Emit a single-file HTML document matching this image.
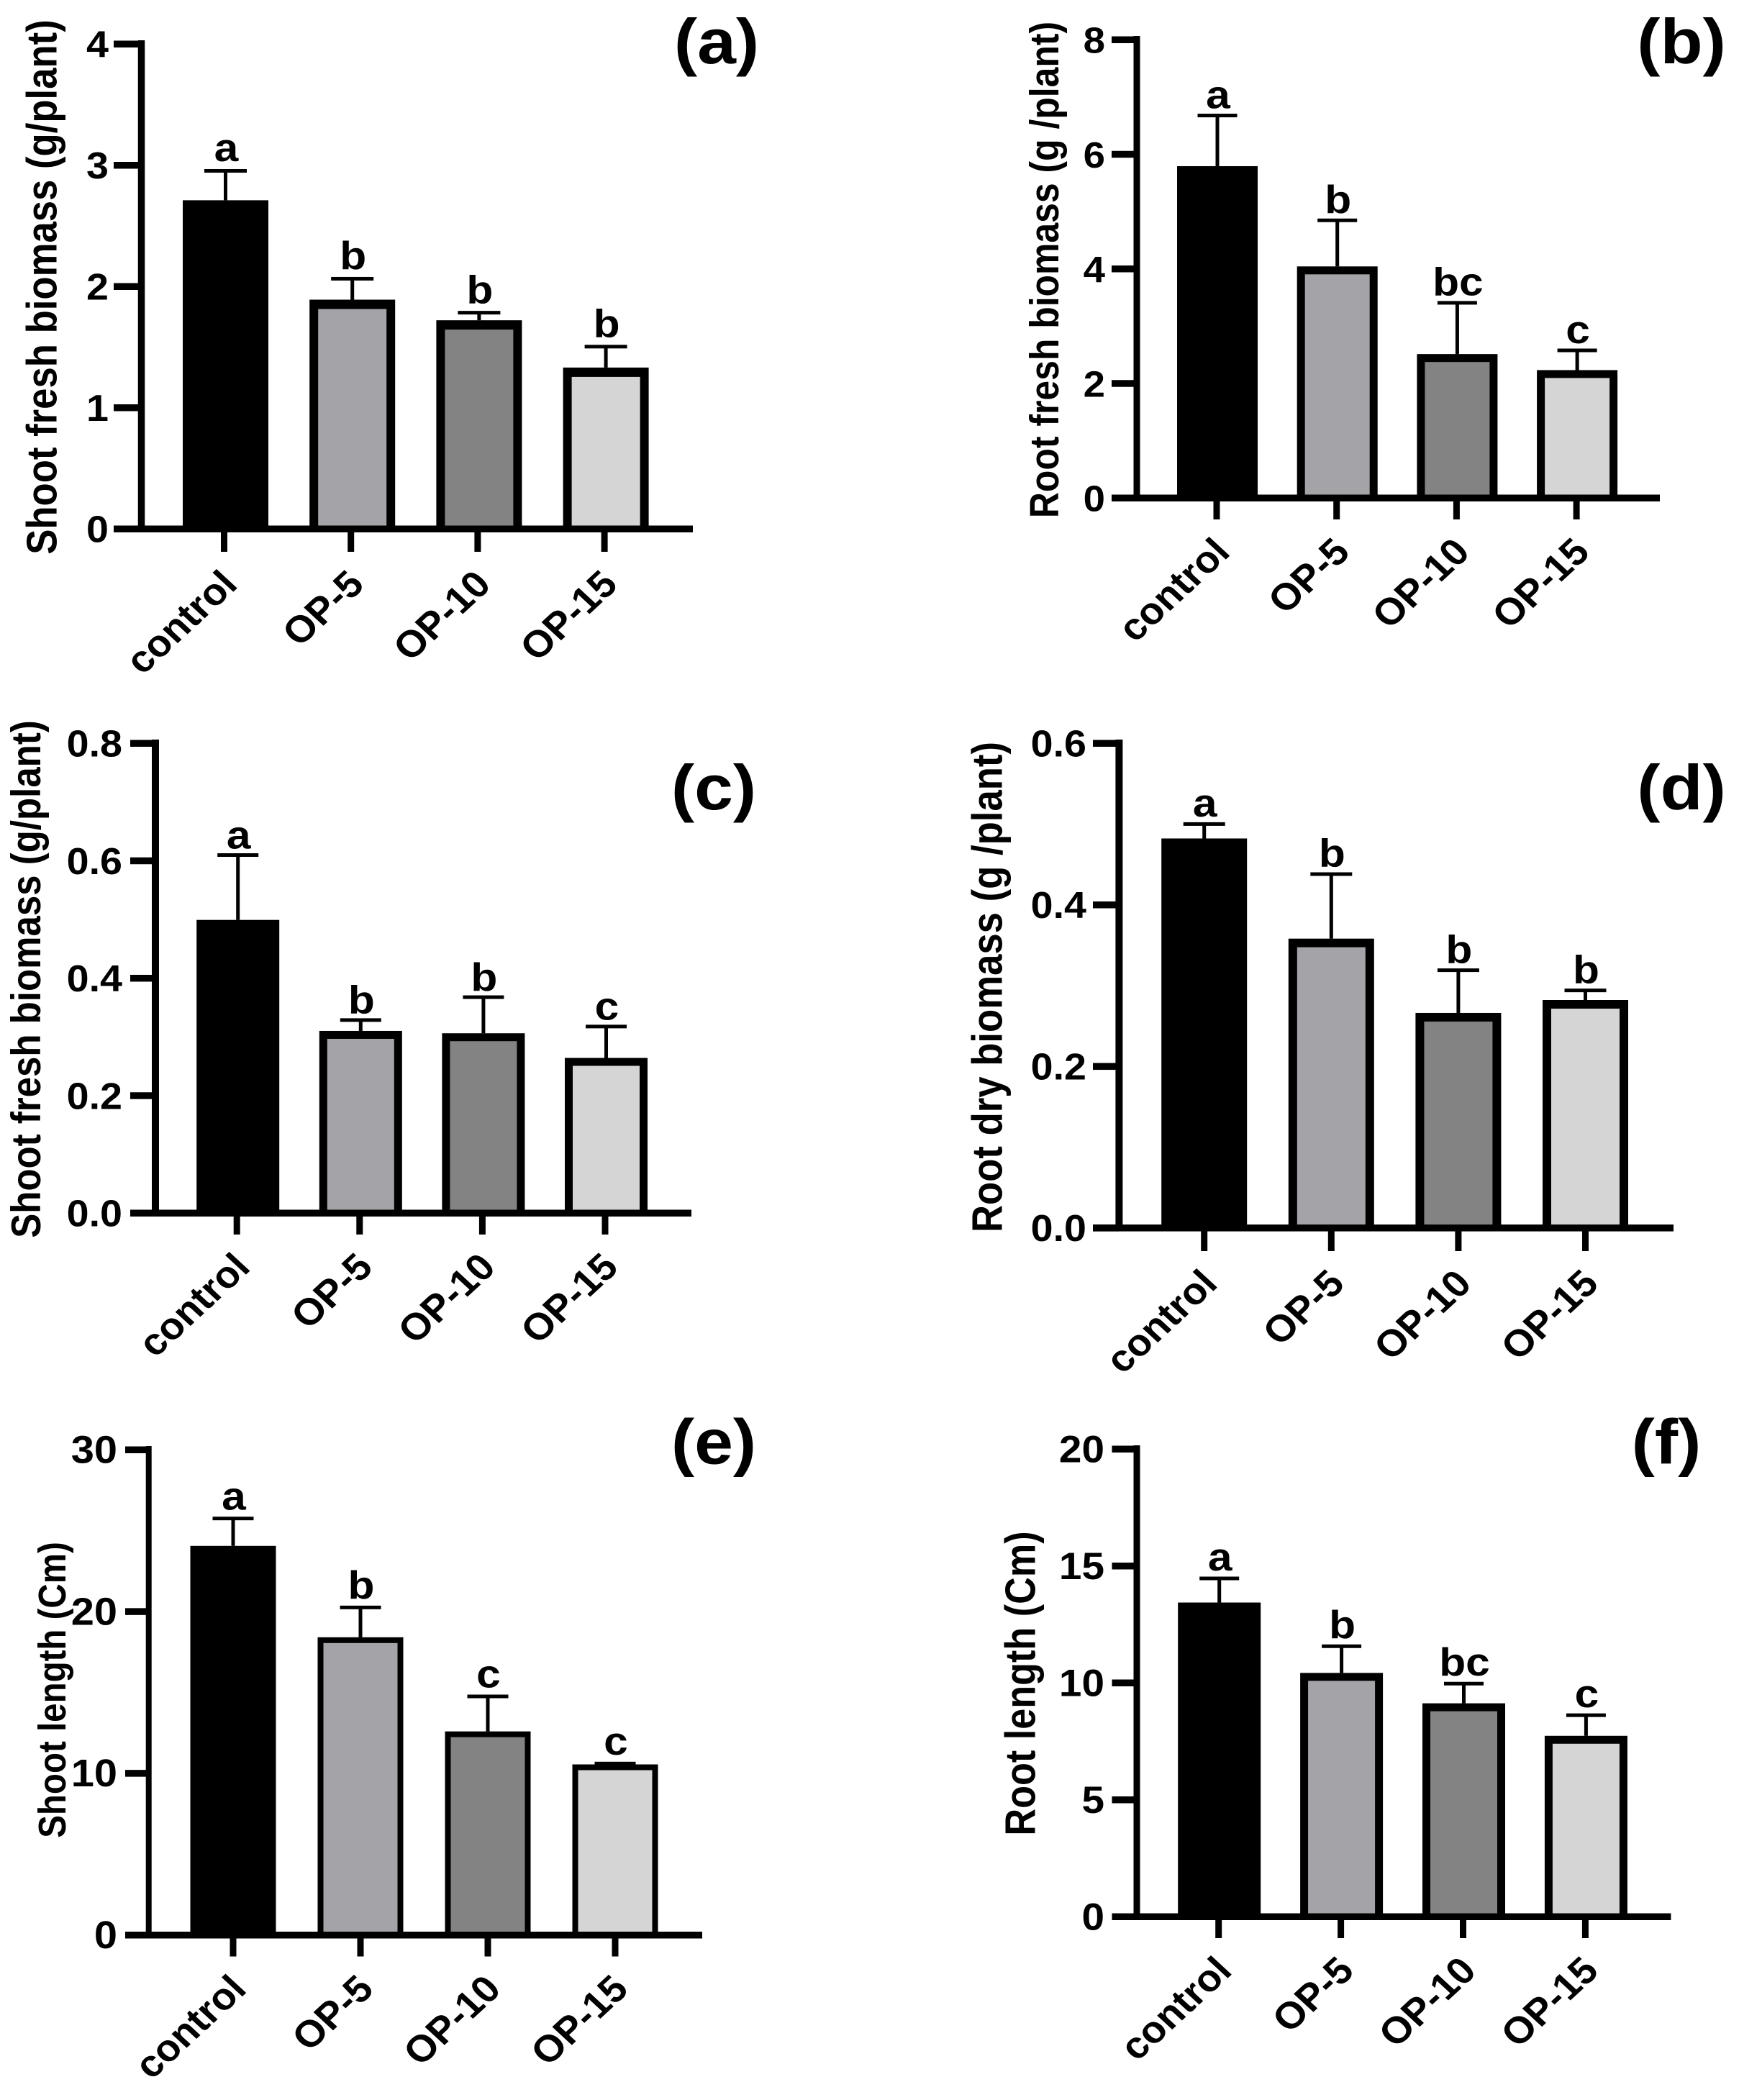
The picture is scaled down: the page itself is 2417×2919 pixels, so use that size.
<!DOCTYPE html>
<html lang="en">
<head>
<meta charset="utf-8">
<title>Biomass and length bar charts</title>
<style>
html,body{margin:0;padding:0;background:#fff;}
svg{display:block;}
text{font-family:"Liberation Sans",Arial,sans-serif;font-weight:bold;fill:#000;}
</style>
</head>
<body>
<svg id="figure" xmlns="http://www.w3.org/2000/svg" width="2417" height="2919" viewBox="0 0 2417 2919"></svg>
<script>
const categories = ['control', 'OP-5', 'OP-10', 'OP-15'];

const panelAValues = [2.71, 1.89, 1.72, 1.33];
const panelAErrors = [2.96, 2.07, 1.79, 1.51];
const panelALetters = ['a', 'b', 'b', 'b'];
const panelATicks = ['0', '1', '2', '3', '4'];

const panelBValues = [5.79, 4.04, 2.51, 2.23];
const panelBErrors = [6.69, 4.86, 3.42, 2.59];
const panelBLetters = ['a', 'b', 'bc', 'c'];
const panelBTicks = ['0', '2', '4', '6', '8'];

const panelCValues = [0.499, 0.31, 0.306, 0.264];
const panelCErrors = [0.611, 0.33, 0.369, 0.319];
const panelCLetters = ['a', 'b', 'b', 'c'];
const panelCTicks = ['0.0', '0.2', '0.4', '0.6', '0.8'];

const panelDValues = [0.482, 0.358, 0.266, 0.282];
const panelDErrors = [0.501, 0.439, 0.32, 0.295];
const panelDLetters = ['a', 'b', 'b', 'b'];
const panelDTicks = ['0.0', '0.2', '0.4', '0.6'];

const panelEValues = [24.05, 18.4, 12.58, 10.54];
const panelEErrors = [25.8, 20.3, 14.8, 10.65];
const panelELetters = ['a', 'b', 'c', 'c'];
const panelETicks = ['0', '10', '20', '30'];

const panelFValues = [13.43, 10.42, 9.12, 7.73];
const panelFErrors = [14.5, 11.6, 10.0, 8.65];
const panelFLetters = ['a', 'b', 'bc', 'c'];
const panelFTicks = ['0', '5', '10', '15', '20'];

const barFills = ['#000000', '#a4a3a8', '#838383', '#d5d5d5'];

const TITLE_STRETCH = 1.13;
const TICK_STRETCH = 1.07;
const LABEL_STRETCH = 1.08;
const LETTER_STRETCH = 1.1;
const NS = 'http://www.w3.org/2000/svg';
const figure = document.getElementById('figure');

const panels = [
  {id:'a', mark:'(a)', markX:996, markY:88, title:'Shoot fresh biomass (g/plant)', titleX:78.5, titleY:399, titleSize:52.7,
   values:panelAValues, errors:panelAErrors, letters:panelALetters, ticks:panelATicks,
   axisX:196.5, yTop:61, y0:735, tickLeft:158, xRight:963, first:313.5, step:176.2, barW:119, border:12, borderTop:13,
   tickShift:-2, tickBottom:767, labelRight:151, tickSize:52, capW:59, axisW:9.5, letterGap:12},
  {id:'b', mark:'(b)', markX:2337, markY:88, title:'Root fresh biomass (g /plant)', titleX:1470.8, titleY:375, titleSize:49.9,
   values:panelBValues, errors:panelBErrors, letters:panelBLetters, ticks:panelBTicks,
   axisX:1580, yTop:55, y0:692, tickLeft:1545, xRight:2307, first:1692, step:166.7, barW:112, border:11, borderTop:11,
   tickShift:-1, tickBottom:722, labelRight:1536, tickSize:51, capW:55, axisW:9, letterGap:9},
  {id:'c', mark:'(c)', markX:992, markY:1125, title:'Shoot fresh biomass (g/plant)', titleX:56, titleY:1361, titleSize:51,
   values:panelCValues, errors:panelCErrors, letters:panelCLetters, ticks:panelCTicks,
   axisX:216, yTop:1033, y0:1686, tickLeft:181, xRight:961, first:330.7, step:170.6, barW:115, border:11, borderTop:11,
   tickShift:-1.5, tickBottom:1716, labelRight:170, tickSize:52, capW:57, axisW:10, letterGap:8},
  {id:'d', mark:'(d)', markX:2337, markY:1125, title:'Root dry biomass (g /plant)', titleX:1392.5, titleY:1372, titleSize:52.7,
   values:panelDValues, errors:panelDErrors, letters:panelDLetters, ticks:panelDTicks,
   axisX:1555.4, yTop:1033, y0:1706.6, tickLeft:1519, xRight:2326, first:1673.7, step:176.6, barW:119, border:12, borderTop:12,
   tickShift:0, tickBottom:1739, labelRight:1510, tickSize:52, capW:58, axisW:10, letterGap:9},
  {id:'e', mark:'(e)', markX:992, markY:2034.5, title:'Shoot length (Cm)', titleX:91, titleY:2349, titleSize:47.5,
   values:panelEValues, errors:panelEErrors, letters:panelELetters, ticks:panelETicks,
   axisX:206.7, yTop:2015, y0:2689.5, tickLeft:174, xRight:976, first:324, step:177, barW:119, border:8, borderTop:8,
   tickShift:0, tickBottom:2719.5, labelRight:163, tickSize:54, capW:57, axisW:8, letterGap:11},
  {id:'f', mark:'(f)', markX:2316, markY:2034.5, title:'Root length (Cm)', titleX:1438.7, titleY:2340, titleSize:52.2,
   values:panelFValues, errors:panelFErrors, letters:panelFLetters, ticks:panelFTicks,
   axisX:1580, yTop:2014, y0:2664, tickLeft:1545.5, xRight:2322.4, first:1694.7, step:169.9, barW:115, border:11, borderTop:11,
   tickShift:-1, tickBottom:2694, labelRight:1535, tickSize:53, capW:55, axisW:9, letterGap:10}
];

function make(tag, attrs, parent, content) {
  const el = document.createElementNS(NS, tag);
  Object.keys(attrs).forEach(function (k) { el.setAttribute(k, attrs[k]); });
  if (content !== undefined) el.textContent = content;
  parent.appendChild(el);
  return el;
}

function drawPanel(p) {
  const g = make('g', {}, figure);
  
  

  const maxValue = Number(p.ticks[p.ticks.length - 1]);
  const y = function (v) { return p.y0 - (v / maxValue) * (p.y0 - p.yTop); };
  const x = function (i) { return p.first + i * p.step; };

  p.values.forEach(function (value, i) {
    const left = x(i) - p.barW / 2;
    const top = y(value);
    const errTop = y(p.errors[i]);

    const whisker = make('rect', {x: x(i) - 2.5, y: errTop, width: 5, height: top - errTop, fill: '#000'}, g);
    
    

    const cap = make('rect', {x: x(i) - p.capW / 2, y: errTop - 1.25, width: p.capW, height: 5, fill: '#000'}, g);
    
    

    const outer = make('rect', {x: left, y: top, width: p.barW, height: p.y0 - top, fill: '#000'}, g);
    
    

    if (i > 0) {
      const inner = make('rect', {
        x: left + p.border, y: top + p.borderTop,
        width: p.barW - 2 * p.border, height: p.y0 - top - p.borderTop,
        fill: barFills[i]
      }, g);
      
      
    }

    const letter = make('text', {
      transform: 'translate(' + (x(i) + 1) + ',' + (errTop - p.letterGap) + ') scale(' + LETTER_STRETCH + ',1)',
      'text-anchor': 'middle', 'font-size': 55
    }, g, p.letters[i]);
    
    

    const tick = make('rect', {x: x(i) + p.tickShift - 4.5, y: p.y0, width: 9, height: p.tickBottom - p.y0, fill: '#000'}, g);
    
    

    const label = make('text', {
      transform: 'translate(' + (x(i) + p.tickShift + 21) + ',' + (p.tickBottom + 48) + ') scale(' + LABEL_STRETCH + ',1) rotate(-45)',
      'text-anchor': 'end', 'font-size': 52
    }, g, categories[i]);
    
    
  });

  const yAxis = make('rect', {x: p.axisX - p.axisW / 2, y: y(maxValue) - 5, width: p.axisW, height: p.y0 - y(maxValue) + 5, fill: '#000'}, g);
  
  

  const xAxis = make('rect', {x: p.tickLeft, y: p.y0 - 4.5, width: p.xRight - p.tickLeft, height: 9.5, fill: '#000'}, g);
  
  

  p.ticks.forEach(function (t) {
    const v = Number(t);
    const tick = make('rect', {x: p.tickLeft, y: y(v) - 4.5, width: p.axisX - p.tickLeft, height: 9.5, fill: '#000'}, g);
    
    

    const label = make('text', {
      transform: 'translate(' + p.labelRight + ',' + (y(v) + 18.5) + ') scale(' + TICK_STRETCH + ',1)',
      'text-anchor': 'end', 'font-size': p.tickSize
    }, g, t);
    
    
  });

  const title = make('text', {
    transform: 'translate(' + p.titleX + ',' + p.titleY + ') scale(' + TITLE_STRETCH + ',1) rotate(-90)',
    'text-anchor': 'middle', 'font-size': p.titleSize
  }, g, p.title);
  
  

  const mark = make('text', {
    transform: 'translate(' + p.markX + ',' + p.markY + ') scale(' + LETTER_STRETCH + ',1)',
    'text-anchor': 'middle', 'font-size': 88
  }, g, p.mark);
  
  
}

panels.forEach(drawPanel);
</script>
</body>
</html>
